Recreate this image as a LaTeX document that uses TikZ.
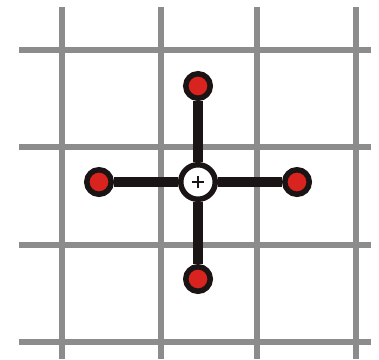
\documentclass[tikz,border=0pt]{standalone}
\definecolor{gridgray}{HTML}{8C8C8C}
\definecolor{dotred}{HTML}{D8231E}
\definecolor{barblack}{HTML}{1A1414}
\tikzset{
  gridline/.style={gridgray, line width=6pt},
  bar/.style={barblack, line width=9.5pt},
  enddot/.style={circle, fill=dotred, draw=barblack, line width=5.5pt, minimum size=24.5pt, inner sep=0pt},
  hub/.style={circle, fill=white, draw=barblack, line width=5.5pt, minimum size=34.5pt, inner sep=0pt}
}
\begin{document}
\begin{tikzpicture}[x=1pt,y=-1pt]
\useasboundingbox (0,0) rectangle (379,359);
\foreach \x in {62,160.5,257,356} \draw[gridline] (\x,7) -- (\x,359);
\foreach \y in {50,146.5,245,341.5} \draw[gridline] (19,\y) -- (371,\y);
\node[hub] (c) at (198,182) {};
\node[enddot] (t) at (198,86) {};
\node[enddot] (b) at (198,279) {};
\node[enddot] (l) at (99,182) {};
\node[enddot] (r) at (297,182) {};
\draw[bar] (c) -- (t);
\draw[bar] (c) -- (b);
\draw[bar] (c) -- (l);
\draw[bar] (c) -- (r);
\draw[barblack, line width=1.4pt] (192,182) -- (204,182) (198,176) -- (198,188);
\end{tikzpicture}
\end{document}
